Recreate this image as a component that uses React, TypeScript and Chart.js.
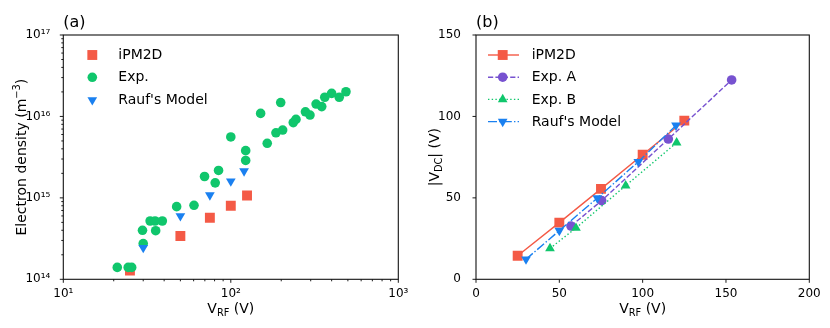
import React, { useEffect, useRef } from 'react';
import { Chart, registerables } from 'chart.js';

Chart.register(...registerables);

const FONT = "'DejaVu Sans', sans-serif";

// ---------- Panel (a) data ----------
const aSeriesNames = ['iPM2D', 'Exp.', "Rauf's Model"];
const aIpmX = [25, 50, 75, 100, 125];
const aIpmY = [1.28e14, 3.4e14, 5.7e14, 8.0e14, 1.07e15];
const aExpX = [21, 24.4, 25.6, 30, 29.7, 33, 35.3, 35.6, 39, 47.5, 60.3, 69.7, 80.7, 84.5, 100, 122.7, 122.7, 150.7, 165, 186, 204, 198.6, 236, 245, 279, 297, 323, 349, 364, 400, 444, 487];
const aExpY = [1.4e14, 1.4e14, 1.4e14, 2.75e14, 4.0e14, 5.2e14, 5.2e14, 3.95e14, 5.2e14, 7.8e14, 8.1e14, 1.83e15, 1.53e15, 2.17e15, 5.6e15, 3.8e15, 2.88e15, 1.09e16, 4.68e15, 6.3e15, 6.8e15, 1.48e16, 8.4e15, 9.2e15, 1.14e16, 1.04e16, 1.42e16, 1.32e16, 1.72e16, 1.92e16, 1.72e16, 2.01e16];
const aRaufX = [30, 50, 75, 100, 120];
const aRaufY = [2.44e14, 6.0e14, 1.08e15, 1.6e15, 2.13e15];
const aXTickValues = [10, 100, 1000];
const aXTickLabels = ['10¹', '10²', '10³'];
const aYTickValues = [1e14, 1e15, 1e16, 1e17];
const aYTickLabels = ['10¹⁴', '10¹⁵', '10¹⁶', '10¹⁷'];

// ---------- Panel (b) data ----------
const bSeriesNames = ['iPM2D', 'Exp. A', 'Exp. B', "Rauf's Model"];
const bIpmX = [25, 50, 75, 100, 125];
const bIpmY = [14.5, 34.8, 55.5, 76.5, 97.4];
const bExpAX = [57, 75.4, 115.4, 153.4];
const bExpAY = [32.7, 48.3, 86.1, 122.4];
const bExpBX = [44.4, 60, 89.8, 120.4];
const bExpBY = [19, 31.5, 57.5, 83.9];
const bRaufX = [30, 50, 72.8, 97.4, 120];
const bRaufY = [12.3, 29.9, 49.9, 72.2, 94.5];
const bXTickValues = [0, 50, 100, 150, 200];
const bYTickValues = [0, 50, 100, 150];

const RED = '#f45a46';
const GREEN = '#10c66c';
const BLUE = '#1a80f0';
const PURPLE = '#7752d0';

const R_CIRCLE = 4.8;
const R_RECT = 7;
const R_TRI = 5.6;
const LW = 1.4;

const DASHES: Record<string, number[]> = {
  solid: [],
  dashed: [5.2, 2.2],
  dotted: [1.4, 2.3],
  dashdot: [9, 2.2, 1.4, 2.2],
};

type Part = { t: string; sub?: boolean; sup?: boolean };

function drawRich(ctx: CanvasRenderingContext2D, parts: Part[], size: number, cx: number, cy: number, rot: number) {
  ctx.save();
  ctx.translate(cx, cy);
  ctx.rotate(rot);
  ctx.fillStyle = '#000';
  ctx.textBaseline = 'alphabetic';
  ctx.textAlign = 'left';
  let total = 0;
  const widths: number[] = [];
  for (const p of parts) {
    const s = p.sub || p.sup ? size * 0.7 : size;
    ctx.font = `${s}px ${FONT}`;
    const w = ctx.measureText(p.t).width;
    widths.push(w);
    total += w;
  }
  let x = -total / 2;
  const base = size * 0.36;
  parts.forEach((p, i) => {
    const s = p.sub || p.sup ? size * 0.7 : size;
    ctx.font = `${s}px ${FONT}`;
    let y = base;
    if (p.sub) y += size * 0.2;
    if (p.sup) y -= size * 0.42;
    ctx.fillText(p.t, x, y);
    x += widths[i];
  });
  ctx.restore();
}

function drawMarker(ctx: CanvasRenderingContext2D, style: string, x: number, y: number, color: string) {
  ctx.save();
  ctx.fillStyle = color;
  ctx.setLineDash([]);
  ctx.beginPath();
  if (style === 'circle') {
    ctx.arc(x, y, R_CIRCLE, 0, Math.PI * 2);
  } else if (style === 'rect') {
    const s = Math.SQRT1_2 * R_RECT;
    ctx.rect(x - s, y - s, 2 * s, 2 * s);
  } else {
    const rot = style === 'triDown' ? Math.PI : 0;
    for (let k = 0; k < 3; k++) {
      const a = rot + (k * 2 * Math.PI) / 3;
      const px = x + Math.sin(a) * R_TRI;
      const py = y - Math.cos(a) * R_TRI;
      if (k === 0) ctx.moveTo(px, py);
      else ctx.lineTo(px, py);
    }
    ctx.closePath();
  }
  ctx.fill();
  ctx.restore();
}

type LegendItem = { label: string; marker: string; color: string; dash?: string };
type Decor = {
  panel: string;
  xTitle: Part[];
  yTitle: Part[];
  yTitleX: number;
  logX: boolean;
  logY: boolean;
  legend: LegendItem[];
  legendYs: number[];
  markerX: number;
  textX: number;
  lineX?: [number, number];
};

function isPow10(v: number) {
  const l = Math.log10(v);
  return Math.abs(l - Math.round(l)) < 1e-9;
}

function makeDecor(d: Decor) {
  return {
    id: 'decor' + d.panel,
    afterDraw(chart: any) {
      const ctx: CanvasRenderingContext2D = chart.ctx;
      const a = chart.chartArea;
      const xs = chart.scales.x;
      const ys = chart.scales.y;
      ctx.save();
      // ticks
      ctx.strokeStyle = '#000';
      ctx.lineWidth = 0.9;
      ctx.setLineDash([]);
      for (const t of xs.ticks) {
        const px = xs.getPixelForValue(t.value);
        const len = d.logX && !isPow10(t.value) ? 2 : 3.5;
        ctx.beginPath();
        ctx.moveTo(px, a.bottom);
        ctx.lineTo(px, a.bottom + len);
        ctx.stroke();
      }
      for (const t of ys.ticks) {
        const py = ys.getPixelForValue(t.value);
        const len = d.logY && !isPow10(t.value) ? 2 : 3.5;
        ctx.beginPath();
        ctx.moveTo(a.left, py);
        ctx.lineTo(a.left - len, py);
        ctx.stroke();
      }
      // frame
      ctx.lineWidth = 1.1;
      ctx.strokeStyle = '#111';
      ctx.strokeRect(a.left, a.top, a.right - a.left, a.bottom - a.top);
      // panel label
      ctx.fillStyle = '#000';
      ctx.font = `16px ${FONT}`;
      ctx.textAlign = 'left';
      ctx.textBaseline = 'alphabetic';
      ctx.fillText(d.panel, a.left, 27);
      // axis titles
      drawRich(ctx, d.xTitle, 14, (a.left + a.right) / 2, 308, 0);
      drawRich(ctx, d.yTitle, 14, d.yTitleX, (a.top + a.bottom) / 2, -Math.PI / 2);
      // legend
      d.legend.forEach((it, i) => {
        const y = d.legendYs[i];
        if (d.lineX && it.dash) {
          ctx.save();
          ctx.strokeStyle = it.color;
          ctx.lineWidth = LW;
          ctx.setLineDash(DASHES[it.dash]);
          ctx.beginPath();
          ctx.moveTo(d.lineX[0], y);
          ctx.lineTo(d.lineX[1], y);
          ctx.stroke();
          ctx.restore();
        }
        drawMarker(ctx, it.marker, d.markerX, y, it.color);
        ctx.fillStyle = '#000';
        ctx.font = `14px ${FONT}`;
        ctx.textAlign = 'left';
        ctx.textBaseline = 'middle';
        ctx.fillText(it.label, d.textX, y + 0.5);
      });
      ctx.restore();
    },
  };
}

function pts(xs: number[], ys: number[]) {
  return xs.map((x, i) => ({ x, y: ys[i] }));
}

function logTicks(minExp: number, maxExp: number) {
  const out: { value: number; major: boolean }[] = [];
  for (let e = minExp; e <= maxExp; e++) {
    for (let m = 1; m <= 9; m++) {
      if (e === maxExp && m > 1) break;
      out.push({ value: m * Math.pow(10, e), major: m === 1 });
    }
  }
  return out;
}

function labelFor(values: number[], labels: string[], v: number) {
  for (let i = 0; i < values.length; i++) {
    if (Math.abs(values[i] - v) / Math.max(1, Math.abs(values[i])) < 1e-9) return labels[i];
  }
  return '';
}

function scatterDs(label: string, data: any[], color: string, style: string, radius: number, order: number, rotation = 0, line?: string) {
  return {
    label,
    data,
    order,
    showLine: !!line,
    borderColor: color,
    backgroundColor: color,
    borderWidth: LW,
    borderDash: line ? DASHES[line] : [],
    pointStyle: style,
    pointRadius: radius,
    pointHoverRadius: radius,
    pointRotation: rotation,
    pointBorderWidth: 0,
    pointBackgroundColor: color,
  };
}

const tickFont = { family: FONT, size: 12 };
const X_TICK_PAD = -1;

export default function App() {
  const aRef = useRef<HTMLCanvasElement>(null);
  const bRef = useRef<HTMLCanvasElement>(null);

  useEffect(() => {
    Chart.defaults.font.family = FONT;
    Chart.defaults.color = '#000';

    const chartA = new Chart(aRef.current as HTMLCanvasElement, {
      type: 'scatter',
      data: {
        datasets: [
          scatterDs(aSeriesNames[0], pts(aIpmX, aIpmY), RED, 'rect', R_RECT, 3),
          scatterDs(aSeriesNames[1], pts(aExpX, aExpY), GREEN, 'circle', R_CIRCLE, 2),
          scatterDs(aSeriesNames[2], pts(aRaufX, aRaufY), BLUE, 'triangle', R_TRI, 1, 180),
        ] as any,
      },
      options: {
        animation: false,
        responsive: false,
        devicePixelRatio: 1,
        layout: { padding: { left: 0, top: 35, right: 415 - 398.3, bottom: 0 } },
        plugins: { legend: { display: false }, tooltip: { enabled: false } },
        scales: {
          x: {
            type: 'logarithmic',
            min: 10,
            max: 1000,
            grid: { display: false },
            border: { display: false },
            afterBuildTicks: (s: any) => { s.ticks = logTicks(1, 3); },
            afterFit: (s: any) => { s.height = 328 - 279.3; },
            ticks: {
              autoSkip: false,
              maxRotation: 0,
              padding: X_TICK_PAD,
              font: tickFont,
              color: '#000',
              callback: (v: any) => labelFor(aXTickValues, aXTickLabels, Number(v)),
            },
          },
          y: {
            type: 'logarithmic',
            min: 1e14,
            max: 1e17,
            grid: { display: false },
            border: { display: false },
            afterBuildTicks: (s: any) => { s.ticks = logTicks(14, 17); },
            afterFit: (s: any) => { s.width = 63.3; },
            ticks: {
              autoSkip: false,
              padding: 5,
              font: tickFont,
              color: '#000',
              callback: (v: any) => labelFor(aYTickValues, aYTickLabels, Number(v)),
            },
          },
        },
      } as any,
      plugins: [
        makeDecor({
          panel: '(a)',
          xTitle: [{ t: 'V' }, { t: 'RF', sub: true }, { t: ' (V)' }],
          yTitle: [{ t: 'Electron density (m' }, { t: '−3', sup: true }, { t: ')' }],
          yTitleX: 21,
          logX: true,
          logY: true,
          legend: [
            { label: aSeriesNames[0], marker: 'rect', color: RED },
            { label: aSeriesNames[1], marker: 'circle', color: GREEN },
            { label: aSeriesNames[2], marker: 'triDown', color: BLUE },
          ],
          legendYs: [55, 77.3, 100],
          markerX: 92.3,
          textX: 118.3,
        }),
      ],
    });

    const chartB = new Chart(bRef.current as HTMLCanvasElement, {
      type: 'scatter',
      data: {
        datasets: [
          scatterDs(bSeriesNames[0], pts(bIpmX, bIpmY), RED, 'rect', R_RECT, 4, 0, 'solid'),
          scatterDs(bSeriesNames[1], pts(bExpAX, bExpAY), PURPLE, 'circle', R_CIRCLE, 3, 0, 'dashed'),
          scatterDs(bSeriesNames[2], pts(bExpBX, bExpBY), GREEN, 'triangle', R_TRI, 2, 0, 'dotted'),
          scatterDs(bSeriesNames[3], pts(bRaufX, bRaufY), BLUE, 'triangle', R_TRI, 1, 180, 'dashdot'),
        ] as any,
      },
      options: {
        animation: false,
        responsive: false,
        devicePixelRatio: 1,
        layout: { padding: { left: 0, top: 35, right: 415 - 394.3, bottom: 0 } },
        plugins: { legend: { display: false }, tooltip: { enabled: false } },
        scales: {
          x: {
            type: 'linear',
            min: 0,
            max: 200,
            grid: { display: false },
            border: { display: false },
            afterBuildTicks: (s: any) => { s.ticks = bXTickValues.map((value) => ({ value })); },
            afterFit: (s: any) => { s.height = 328 - 279.3; },
            ticks: { autoSkip: false, maxRotation: 0, padding: X_TICK_PAD, font: tickFont, color: '#000' },
          },
          y: {
            type: 'linear',
            min: 0,
            max: 150,
            grid: { display: false },
            border: { display: false },
            afterBuildTicks: (s: any) => { s.ticks = bYTickValues.map((value) => ({ value })); },
            afterFit: (s: any) => { s.width = 61; },
            ticks: { autoSkip: false, padding: 7, font: tickFont, color: '#000' },
          },
        },
      } as any,
      plugins: [
        makeDecor({
          panel: '(b)',
          xTitle: [{ t: 'V' }, { t: 'RF', sub: true }, { t: ' (V)' }],
          yTitle: [{ t: '|V' }, { t: 'DC', sub: true }, { t: '| (V)' }],
          yTitleX: 19,
          logX: false,
          logY: false,
          legend: [
            { label: bSeriesNames[0], marker: 'rect', color: RED, dash: 'solid' },
            { label: bSeriesNames[1], marker: 'circle', color: PURPLE, dash: 'dashed' },
            { label: bSeriesNames[2], marker: 'triUp', color: GREEN, dash: 'dotted' },
            { label: bSeriesNames[3], marker: 'triDown', color: BLUE, dash: 'dashdot' },
          ],
          legendYs: [55, 77.2, 99.4, 121.6],
          markerX: 87.7,
          textX: 116.7,
          lineX: [73, 104],
        }),
      ],
    });

    return () => {
      chartA.destroy();
      chartB.destroy();
    };
  }, []);

  return (
    <div style={{ position: 'fixed', left: 0, top: 0, width: 830, height: 328, background: '#fff' }}>
      <canvas ref={aRef} width={415} height={328} style={{ position: 'absolute', left: 0, top: 0 }} />
      <canvas ref={bRef} width={415} height={328} style={{ position: 'absolute', left: 415, top: 0 }} />
    </div>
  );
}
